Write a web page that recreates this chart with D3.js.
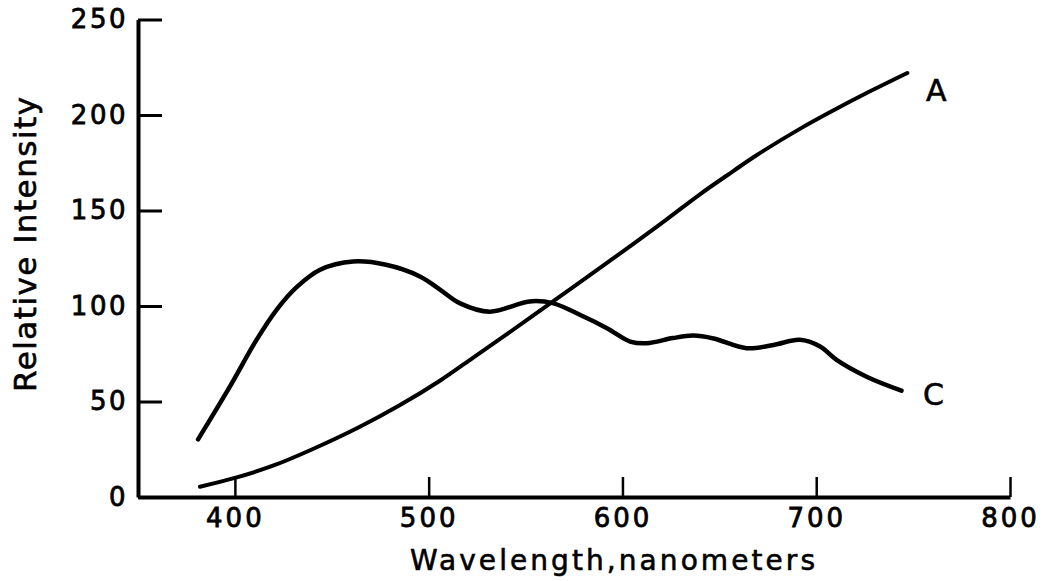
<!DOCTYPE html>
<html>
<head>
<meta charset="utf-8">
<script src="https://cdn.jsdelivr.net/npm/d3@7"></script>
<style>
  html, body { margin: 0; padding: 0; background: #fff; }
  svg { display: block; }
  text { font-family: "DejaVu Sans", sans-serif; fill: #000; }
</style>
</head>
<body>
<svg id="chart" width="1047" height="581"></svg>
<script>
// Wavelength (nm) and relative intensity readings for curve A
const waveA = [382, 400, 420, 440, 464, 485, 506, 523, 540, 564, 583, 606, 623, 640, 657, 669, 692, 709, 726, 747];
const valA  = [5.4, 10, 16.5, 25, 36.5, 48, 61, 73, 85, 102.3, 116, 132.8, 145.5, 158.5, 170.5, 178.8, 193, 202.5, 211.5, 222];

// Wavelength (nm) and relative intensity readings for curve C
const waveC = [381, 397.4, 411, 421.5, 432, 444, 461, 478, 495.5, 506, 516, 531.5, 552, 564, 578, 592, 604, 612.5, 626, 636.5, 647, 664, 678, 691.5, 702, 710.5, 726, 744];
const valC  = [30.2, 57.8, 82, 98, 110, 119, 123.3, 121.6, 115.5, 108.5, 101.5, 97, 102.4, 101.5, 95.4, 88.4, 81.4, 80.5, 83.2, 84.5, 83, 77.9, 79.6, 82.3, 78.8, 71.8, 63, 55.7];

const xTicks = [400, 500, 600, 700, 800];
const yTicks = [0, 50, 100, 150, 200, 250];
const seriesLabels = ["A", "C"];
const xTitle = "Wavelength,nanometers";
const yTitle = "Relative Intensity";

const svg = d3.select("#chart");
const x = d3.scaleLinear().domain([350, 800]).range([138, 1010]);
const y = d3.scaleLinear().domain([0, 250]).range([497, 19.5]);

// Y axis
const gy = svg.append("g")
  .attr("transform", `translate(${x(350)},0)`)
  .call(d3.axisLeft(y).tickValues(yTicks).tickSize(-24).tickSizeOuter(0).tickPadding(10).tickFormat(d3.format("d")));
gy.select(".domain").attr("stroke", "#000").attr("stroke-width", 4);
gy.selectAll(".tick line").attr("stroke", "#000").attr("stroke-width", 3);
gy.selectAll(".tick text").attr("font-size", 26).attr("letter-spacing", 2.5)
  .attr("font-family", "DejaVu Sans, sans-serif").attr("fill", "#000")
  .attr("stroke", "#000").attr("stroke-width", 0.8);

// X axis
const gx = svg.append("g")
  .attr("transform", `translate(0,${y(0)})`)
  .call(d3.axisBottom(x).tickValues(xTicks).tickSize(-20).tickSizeOuter(0).tickPadding(12).tickFormat(d3.format("d")));
gx.select(".domain").attr("stroke", "#000").attr("stroke-width", 4);
gx.selectAll(".tick line").attr("stroke", "#000").attr("stroke-width", 2.5);
gx.selectAll(".tick text").attr("font-size", 26).attr("letter-spacing", 3)
  .attr("font-family", "DejaVu Sans, sans-serif").attr("fill", "#000")
  .attr("stroke", "#000").attr("stroke-width", 0.8);

// Curves
const line = d3.line()
  .x(d => x(d[0]))
  .y(d => y(d[1]))
  .curve(d3.curveCatmullRom.alpha(0.5));

const dataA = waveA.map((w, i) => [w, valA[i]]);
const dataC = waveC.map((w, i) => [w, valC[i]]);

svg.append("path").datum(dataA)
  .attr("d", line).attr("fill", "none").attr("stroke", "#000")
  .attr("stroke-width", 4).attr("stroke-linecap", "round").attr("stroke-linejoin", "round");
svg.append("path").datum(dataC)
  .attr("d", line).attr("fill", "none").attr("stroke", "#000")
  .attr("stroke-width", 4.5).attr("stroke-linecap", "round").attr("stroke-linejoin", "round");

// Series labels
const lastA = dataA[dataA.length - 1];
const lastC = dataC[dataC.length - 1];
svg.append("text").text(seriesLabels[0])
  .attr("x", x(lastA[0]) + 29).attr("y", y(lastA[1]) + 28)
  .attr("text-anchor", "middle").attr("font-size", 30)
  .attr("stroke", "#000").attr("stroke-width", 0.6);
svg.append("text").text(seriesLabels[1])
  .attr("x", x(lastC[0]) + 32).attr("y", y(lastC[1]) + 14)
  .attr("text-anchor", "middle").attr("font-size", 30)
  .attr("stroke", "#000").attr("stroke-width", 0.6);

// Axis titles
svg.append("text").text(xTitle)
  .attr("x", 612.5).attr("y", 570)
  .attr("text-anchor", "middle").attr("font-size", 28)
  .attr("textLength", 405).attr("lengthAdjust", "spacing")
  .attr("stroke", "#000").attr("stroke-width", 0.6);
svg.append("text").text(yTitle)
  .attr("transform", "translate(36,244.5) rotate(-90)")
  .attr("text-anchor", "middle").attr("font-size", 31)
  .attr("textLength", 295).attr("lengthAdjust", "spacing")
  .attr("stroke", "#000").attr("stroke-width", 0.6);
</script>
</body>
</html>
